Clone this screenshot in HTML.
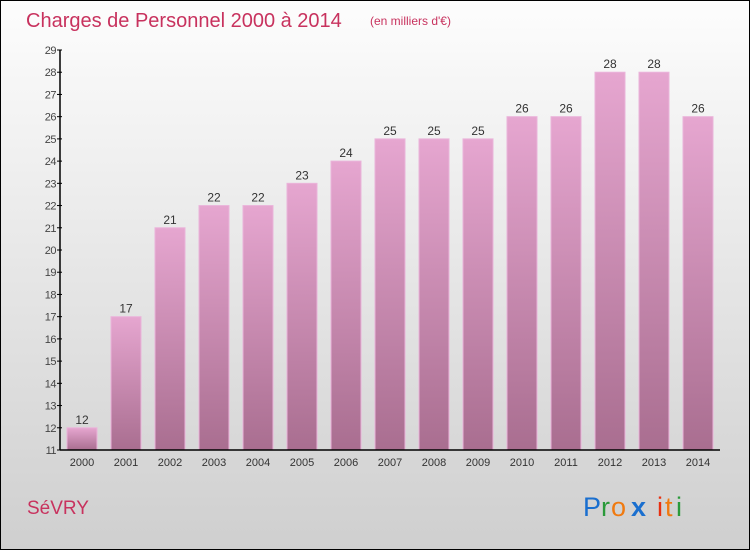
<!DOCTYPE html>
<html><head><meta charset="utf-8"><style>
body{margin:0}
#c{width:750px;height:550px;position:relative;overflow:hidden}
svg text{font-family:"Liberation Sans",sans-serif}
</style></head><body>
<div id="c">
<svg id="s" width="750" height="550" xmlns="http://www.w3.org/2000/svg">
<defs>
<linearGradient id="bg" x1="0" y1="0" x2="0" y2="1"><stop offset="0" stop-color="#fdfdfd"/><stop offset="1" stop-color="#cfcfcf"/></linearGradient>
<linearGradient id="bar" x1="0" y1="0" x2="0" y2="1"><stop offset="0" stop-color="#e6a6d0"/><stop offset="1" stop-color="#a96e90"/></linearGradient>
</defs>
<rect x="0.5" y="0.5" width="749" height="549" fill="url(#bg)" stroke="#000"/>
<text x="26" y="27" font-size="20" fill="#c8325e">Charges de Personnel 2000 à 2014</text>
<text x="370" y="25" font-size="12" fill="#c8325e">(en milliers d'€)</text>
<text x="27" y="514" font-size="19" fill="#c8325e">SéVRY</text>
<g font-size="27">
<text x="583" y="516" fill="#1a6fcf">P</text><text x="601" y="516" fill="#2a9a3a">r</text><text x="611" y="516" fill="#f07a10">o</text><text x="631" y="516" fill="#1a6fcf" font-weight="bold">x</text><text x="657" y="516" fill="#e83010">i</text><text x="665" y="516" fill="#f07a10">t</text><text x="676" y="516" fill="#2a9a3a">i</text>
</g>
<g id="plot"></g>
</svg>
</div>
<script>
const categories=["2000","2001","2002","2003","2004","2005","2006","2007","2008","2009","2010","2011","2012","2013","2014"];
const values=[12,17,21,22,22,23,24,25,25,25,26,26,28,28,26];
const yTicks=[11,12,13,14,15,16,17,18,19,20,21,22,23,24,25,26,27,28,29];
const NS="http://www.w3.org/2000/svg";
const g=document.getElementById('plot');
const yMin=11,yMax=29,y0=450,y1=50;
const y=v=>y0-(v-yMin)*(y0-y1)/(yMax-yMin);
const x=i=>82+i*44;
function mk(t,a,txt){const e=document.createElementNS(NS,t);for(const k in a)e.setAttribute(k,a[k]);if(txt!==undefined)e.textContent=txt;g.appendChild(e);return e;}
values.forEach((v,i)=>{
 const r=mk('rect',{x:x(i)-15,y:y(v),width:30,height:y0-y(v),fill:'url(#bar)',stroke:'#eab4da','stroke-width':1});
 
 
 const t=mk('text',{x:x(i),y:y(v)-4,'font-size':12,fill:'#333','text-anchor':'middle'},String(v));
 
 
 const c=mk('text',{x:x(i),y:466,'font-size':11,fill:'#333','text-anchor':'middle'},categories[i]);
 
 
});
const ax=mk('line',{x1:60,y1:y1,x2:60,y2:y0+0.5,stroke:'#000','stroke-width':1.5});


const bx=mk('line',{x1:60,y1:y0,x2:720,y2:y0,stroke:'#000','stroke-width':1.5});


yTicks.forEach(v=>{
 const l=mk('line',{x1:57,y1:y(v),x2:62,y2:y(v),stroke:'#000','stroke-width':1});
 
 
 const t=mk('text',{x:56,y:y(v)+4,'font-size':11,fill:'#444','text-anchor':'end','letter-spacing':'-0.5'},String(v));
 
 
});
</script>
</body></html>
